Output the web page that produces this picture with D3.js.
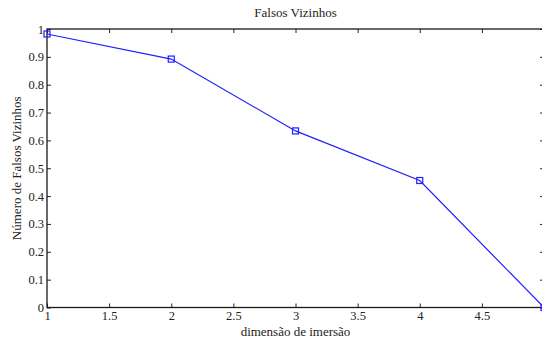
<!DOCTYPE html>
<html>
<head>
<meta charset="utf-8">
<script src="https://cdn.jsdelivr.net/npm/d3@7"></script>
<style>
  body { margin: 0; background: #fff; }
  svg { display: block; }
  text { font-family: "Times New Roman", "Liberation Serif", serif; fill: #222; }
</style>
</head>
<body>
<div id="chart"></div>
<script>
// embedding dimension vs fraction of false neighbours
const dims = [1, 2, 3, 4, 5];
const falsos = [0.982, 0.892, 0.634, 0.456, 0.0];
const xTicks = [1, 1.5, 2, 2.5, 3, 3.5, 4, 4.5];
const yTicks = [0, 0.1, 0.2, 0.3, 0.4, 0.5, 0.6, 0.7, 0.8, 0.9, 1];

const width = 542, height = 338;
const mLeft = 47, mRight = 544, mTop = 29, mBottom = 307.5;
const serif = "Times New Roman, Liberation Serif, serif";

const svg = d3.select("#chart").append("svg")
    .attr("width", width)
    .attr("height", height);

const x = d3.scaleLinear().domain([1, 5]).range([mLeft, mRight]);
const y = d3.scaleLinear().domain([0, 1]).range([mBottom, mTop]);

// ticks on all four sides, pointing inward
const tickLen = 4;
const fmt = d => d3.format("")(d);

function styleAxis(g) {
    g.select(".domain").remove();
    g.attr("font-family", serif).attr("font-size", 12.5);
    g.selectAll(".tick line").attr("stroke", "#222");
    g.selectAll(".tick text").attr("fill", "#222").style("font-family", serif);
}

svg.append("g")
    .attr("transform", `translate(0,${mBottom})`)
    .call(d3.axisBottom(x).tickValues(xTicks).tickFormat(fmt).tickSizeInner(-tickLen).tickSizeOuter(0).tickPadding(4))
    .call(styleAxis);

svg.append("g")
    .attr("transform", `translate(0,${mTop})`)
    .call(d3.axisTop(x).tickValues(xTicks).tickFormat("").tickSizeInner(-tickLen).tickSizeOuter(0))
    .call(styleAxis);

svg.append("g")
    .attr("transform", `translate(${mLeft},0)`)
    .call(d3.axisLeft(y).tickValues(yTicks).tickFormat(fmt).tickSizeInner(-tickLen).tickSizeOuter(0).tickPadding(3))
    .call(styleAxis);

svg.append("g")
    .attr("transform", `translate(${mRight},0)`)
    .call(d3.axisRight(y).tickValues(yTicks).tickFormat("").tickSizeInner(-tickLen).tickSizeOuter(0))
    .call(styleAxis);

// box
svg.append("rect")
    .attr("x", mLeft).attr("y", mTop)
    .attr("width", mRight - mLeft).attr("height", mBottom - mTop)
    .attr("fill", "none").attr("stroke", "#1a1a1a").attr("stroke-width", 1.3);

const pts = dims.map((d, i) => [d, falsos[i]]);

svg.append("path")
    .datum(pts)
    .attr("fill", "none")
    .attr("stroke", "#1f1fff")
    .attr("stroke-width", 1.2)
    .attr("d", d3.line().x(d => x(d[0])).y(d => y(d[1])));

svg.selectAll("rect.mk")
    .data(pts)
    .enter().append("rect")
    .attr("class", "mk")
    .attr("x", d => x(d[0]) - 3)
    .attr("y", d => y(d[1]) - 3)
    .attr("width", 6).attr("height", 6)
    .attr("fill", "none")
    .attr("stroke", "#1f1fff")
    .attr("stroke-width", 1.2);

svg.append("text")
    .attr("x", (mLeft + mRight) / 2).attr("y", 17)
    .attr("text-anchor", "middle")
    .style("font-size", "13px")
    .text("Falsos Vizinhos");

svg.append("text")
    .attr("x", (mLeft + mRight) / 2).attr("y", 335.5)
    .attr("text-anchor", "middle")
    .style("font-size", "13px")
    .text("dimensão de imersão");

svg.append("text")
    .attr("transform", `translate(21,${(mTop + mBottom) / 2}) rotate(-90)`)
    .attr("text-anchor", "middle")
    .style("font-size", "13px")
    .text("Número de Falsos Vizinhos");
</script>
</body>
</html>
